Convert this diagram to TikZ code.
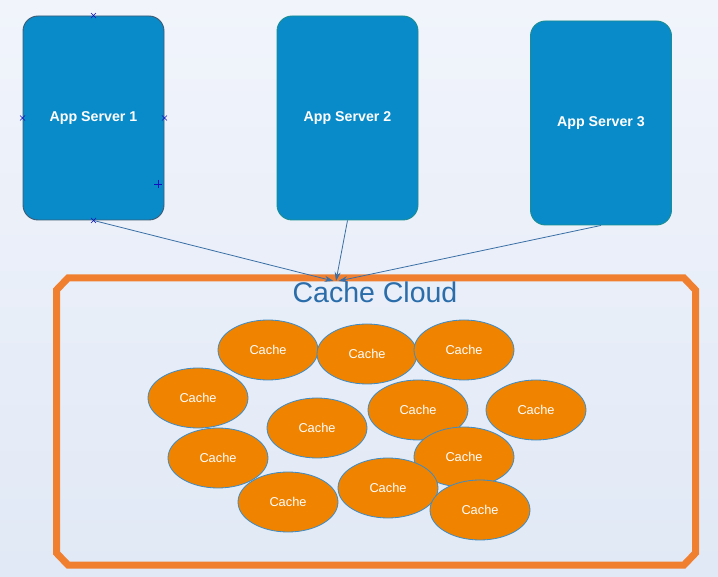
\documentclass[tikz,border=0pt]{standalone}
\usepackage{fontspec}
\setmainfont{Liberation Sans}
\usetikzlibrary{arrows.meta,shapes.geometric,calc}
\definecolor{bgtop}{HTML}{F1F4FB}
\definecolor{bgbot}{HTML}{E1E9F6}
\definecolor{srvfill}{HTML}{0A8BC9}
\definecolor{srvedgeA}{HTML}{3F5B73}
\definecolor{srvedgeB}{HTML}{1A8E92}
\definecolor{cachefill}{HTML}{F08300}
\definecolor{cacheedge}{HTML}{3C8CC8}
\definecolor{frameor}{HTML}{F07F30}
\definecolor{titleblue}{HTML}{2A6DAA}
\definecolor{linkblue}{HTML}{3A6FA6}
\definecolor{handle}{HTML}{1010C0}
\tikzset{
  server/.style={rectangle, rounded corners=15pt, fill=srvfill, draw=srvedgeB, line width=0.9pt,
    minimum width=141pt, minimum height=204pt, inner sep=0pt, text=white,
    font=\fontsize{14.2}{16}\selectfont\bfseries},
  cache/.style={ellipse, fill=cachefill, draw=cacheedge, line width=0.8pt,
    minimum width=100pt, minimum height=60pt, inner sep=0pt, text=white,
    font=\fontsize{12.8}{14}\selectfont},
  link/.style={draw=linkblue, line width=0.8pt, -{Stealth[length=9pt,width=6pt]}},
  handlemark/.style={draw=handle, line width=0.6pt},
}
\begin{document}
\begin{tikzpicture}[x=1pt,y=-1pt]
\useasboundingbox (0,0) rectangle (718,577);
\shade[top color=bgtop, bottom color=bgbot] (0,0) rectangle (718,577);

% servers
\node[server, draw=srvedgeA] (s1) at (93.5,118) {App Server 1};
\node[server] (s2) at (347.5,118) {App Server 2};
\node[server] (s3) at (601,123) {App Server 3};

% cache cloud frame
\draw[frameor, line width=7pt, line join=miter]
  (56.5,290) -- (68,278) -- (684,278) -- (695.5,290) -- (695.5,553) -- (684,565)
  -- (68,565) -- (56.5,553) -- cycle;
\node[text=titleblue, font=\fontsize{28.5}{30}\selectfont, inner sep=0pt] (title) at (375,292) {Cache Cloud};

% caches
\node[cache] (c1) at (268,350) {Cache};
\node[cache] (c2) at (367,354) {Cache};
\node[cache] (c3) at (464,350) {Cache};
\node[cache] (c4) at (198,398) {Cache};
\node[cache] (c5) at (317,428) {Cache};
\node[cache] (c6) at (418,410) {Cache};
\node[cache] (c7) at (536,410) {Cache};
\node[cache] (c8) at (218,458) {Cache};
\node[cache] (c10) at (288,502) {Cache};
\node[cache] (c9) at (464,457) {Cache};
\node[cache] (c11) at (388,488) {Cache};
\node[cache] (c12) at (480,510) {Cache};

% connectors
\coordinate (h1) at (333.5,281);
\coordinate (h2) at (336,281);
\coordinate (h3) at (338.5,281);
\draw[link] (s1.south) -- (h1);
\draw[link] (s2.south) -- (h2);
\draw[link] (s3.south) -- (h3);

% selection handles on App Server 1
\foreach \p in {s1.north, s1.west, s1.east, s1.south}{
  \draw[handlemark] ($(\p)+(-2.5,-2.5)$) -- ++(5,5) ($(\p)+(-2.5,2.5)$) -- ++(5,-5);
}
\coordinate (sel) at (158,184);
\draw[handlemark, line width=0.9pt] ($(sel)+(-4,0)$) -- ++(8,0) ($(sel)+(0,-4)$) -- ++(0,8);
\end{tikzpicture}
\end{document}
